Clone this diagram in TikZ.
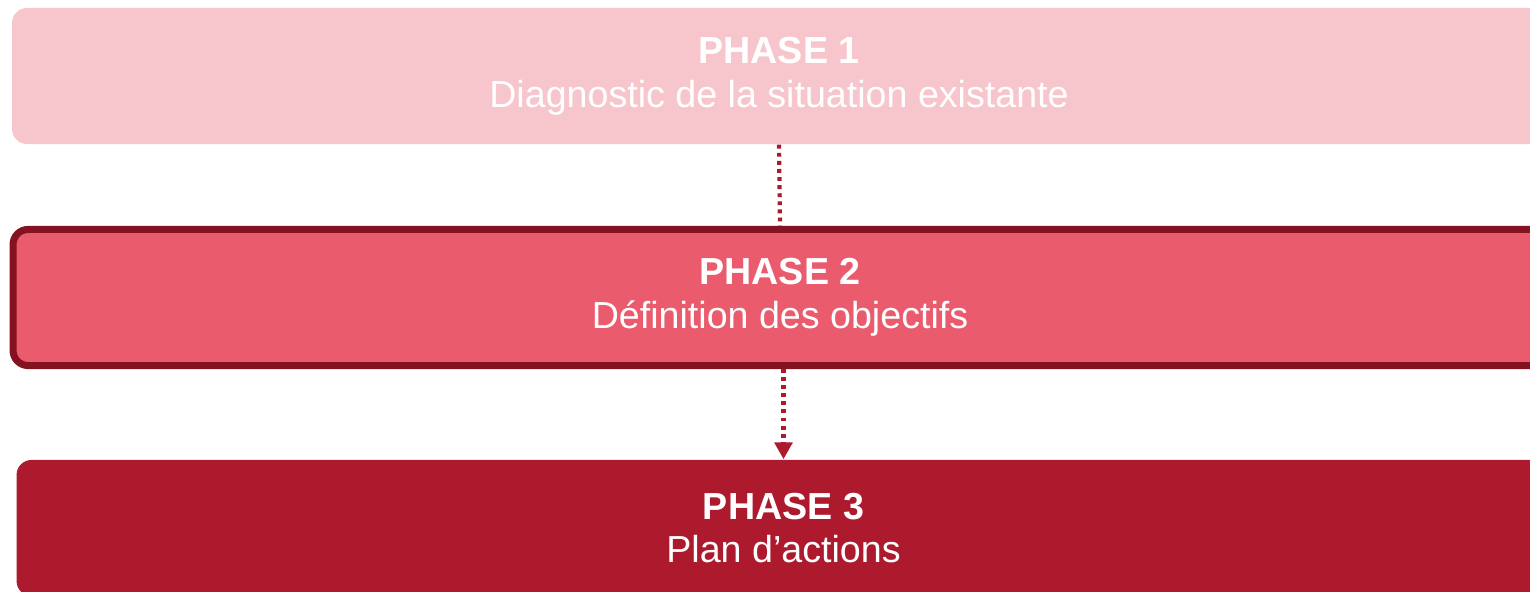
\documentclass[tikz,border=0pt]{standalone}
\usepackage{fontspec}
\setmainfont{Liberation Sans}
\usetikzlibrary{arrows.meta}
\definecolor{phaselight}{RGB}{247,198,205}
\definecolor{phasemid}{RGB}{233,91,109}
\definecolor{phasedark}{RGB}{174,26,45}
\definecolor{phaseline}{RGB}{133,18,33}

\tikzset{
  phasebox/.style={rectangle,rounded corners=0.15cm,minimum width=15.33cm,minimum height=1.36cm,
    inner sep=0pt,align=center,text=white,font=\fontsize{10.7}{12.4}\selectfont},
  dots/.style={phasedark,line width=1.2pt,dash pattern=on 1.1pt off 1.2pt}
}

\begin{document}
\begin{tikzpicture}[x=0.01cm,y=-0.01cm]
\useasboundingbox (0,0) rectangle (1530,592);
\clip (0,0) rectangle (1530,592); % boxes run past the right edge

\node[phasebox,fill=phaselight] (phase1) at (779,76) {\textbf{PHASE 1}\\Diagnostic de la situation existante};
\node[phasebox,fill=phasemid,draw=phaseline,line width=2pt] (phase2) at (780,297.5) {\textbf{PHASE 2}\\Définition des objectifs};
\node[phasebox,fill=phasedark] (phase3) at (783.5,528) {\textbf{PHASE 3}\\Plan d’actions};

% dotted links
\draw[dots] (phase1.south) -- (phase2.north);
\draw[dots,-{Triangle[width=5pt,length=4.8pt]}] (phase3.north |- phase2.south) -- (phase3.north);
\end{tikzpicture}
\end{document}
